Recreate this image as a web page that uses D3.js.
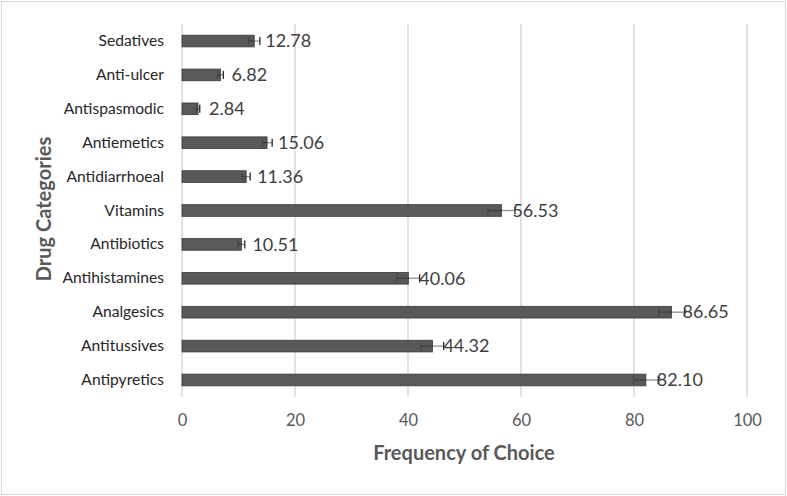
<!DOCTYPE html>
<html><head><meta charset="utf-8">
<script src="https://cdn.jsdelivr.net/npm/d3@7"></script>
<style>body{margin:0;background:#fff}svg{display:block}text{font-family:Lato,"Open Sans",sans-serif}</style>
</head><body><svg id="c" width="787" height="496"></svg>
<script>
const categories = ["Sedatives","Anti-ulcer","Antispasmodic","Antiemetics","Antidiarrhoeal","Vitamins","Antibiotics","Antihistamines","Analgesics","Antitussives","Antipyretics"];
const values = [12.78,6.82,2.84,15.06,11.36,56.53,10.51,40.06,86.65,44.32,82.10];
const errors = [1.0,0.5,0.3,0.9,0.7,2.4,0.6,2.0,2.3,2.0,2.2];
const xTicks = [0,20,40,60,80,100];

const svg = d3.select("#c");
svg.append("rect").attr("x",1.5).attr("y",1.5).attr("width",784).attr("height",493)
  .attr("fill","#fff").attr("stroke","#d9d9d9").attr("stroke-width",1);

const x = d3.scaleLinear().domain([0,100]).range([182,747]);
const y = d3.scaleBand().domain(categories).range([24,397]).paddingInner(0.655).paddingOuter(0.33);

// gridlines
svg.append("g").selectAll("line").data(xTicks).join("line")
  .attr("x1",d=>x(d)).attr("x2",d=>x(d)).attr("y1",24).attr("y2",397)
  .attr("stroke","#d9d9d9").attr("stroke-width",1.5);

// x axis labels
const xAxis = svg.append("g").attr("transform","translate(0,397)")
  .call(d3.axisBottom(x).tickValues(xTicks).tickSize(0).tickPadding(17).tickFormat(d3.format("d")));
xAxis.select(".domain").remove();
xAxis.selectAll("text").attr("font-size",16.5).attr("fill","#595959").style("font-family","Lato,sans-serif");

// y axis labels
const yAxis = svg.append("g").attr("transform","translate(182,0)")
  .call(d3.axisLeft(y).tickSize(0).tickPadding(18));
yAxis.select(".domain").remove();
yAxis.selectAll("text").attr("font-size",15.6).attr("fill","#262626").style("font-family","Lato,sans-serif");

// bars
svg.append("g").selectAll("rect").data(categories).join("rect")
  .attr("x",x(0)).attr("y",d=>y(d)).attr("height",y.bandwidth())
  .attr("width",(d,i)=>x(values[i])-x(0))
  .attr("fill","#595959").attr("stroke","#3a3a3a").attr("stroke-width",0.8);

// error bars
const eb = svg.append("g").attr("stroke","#262626").attr("stroke-width",1.3);
categories.forEach((c,i)=>{
  const cy = y(c)+y.bandwidth()/2;
  const x1 = x(values[i]-errors[i]), x2 = x(values[i]+errors[i]);
  eb.append("line").attr("x1",x1).attr("x2",x2).attr("y1",cy).attr("y2",cy).attr("stroke-opacity",0.5);
  eb.append("line").attr("x1",x2).attr("x2",x2).attr("y1",cy-4).attr("y2",cy+4);
  eb.append("line").attr("x1",x1).attr("x2",x1).attr("y1",cy-4).attr("y2",cy+4).attr("stroke-opacity",0.3);
});

// data labels
svg.append("g").selectAll("text").data(categories).join("text")
  .attr("x",(d,i)=>x(values[i])+11).attr("y",d=>y(d)+y.bandwidth()/2)
  .attr("dy","0.35em").attr("font-size",18).attr("fill","#404040")
  .text((d,i)=>values[i].toFixed(2));

// axis titles
svg.append("text").attr("x",464).attr("y",460).attr("text-anchor","middle")
  .attr("font-size",20).attr("font-weight","bold").attr("fill","#595959").text("Frequency of Choice");
svg.append("text").attr("transform","translate(51,209) rotate(-90)").attr("text-anchor","middle")
  .attr("font-size",20).attr("font-weight","bold").attr("fill","#595959").text("Drug Categories");
</script></body></html>
